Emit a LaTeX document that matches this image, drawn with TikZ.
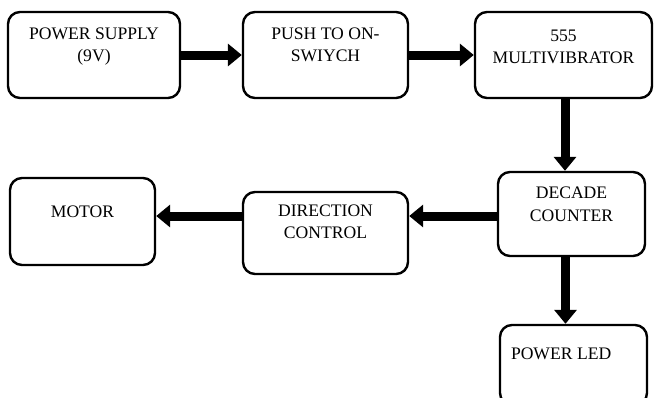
\documentclass[tikz,border=0pt]{standalone}
\usepackage{fontspec}
\setmainfont{Liberation Serif}
\usetikzlibrary{arrows.meta}
\tikzset{
  blk/.style={draw, line width=2.4pt, rounded corners=12pt, inner sep=0pt},
  lbl/.style={anchor=north, align=center, inner sep=0pt, font=\fontsize{17.6}{22.5}\selectfont},
  fat/.style={line width=9pt, -{Triangle[width=22pt,length=14pt]}}
}
\begin{document}
\begin{tikzpicture}[x=1pt,y=-1pt]
  \useasboundingbox (0,0) rectangle (662,397);
  \clip (0,0) rectangle (662,397);
  %% top row
  \node[blk, minimum width=172pt, minimum height=86pt] (ps) at (94,55) {};
  \node[blk, minimum width=165pt, minimum height=86pt] (push) at (325.5,55) {};
  \node[blk, minimum width=177pt, minimum height=86pt] (mv) at (563.5,55) {};
  %% bottom rows
  \node[blk, minimum width=147pt, minimum height=84pt] (dc) at (571.5,214) {};
  \node[blk, minimum width=165pt, minimum height=82pt] (dir) at (325.5,233) {};
  \node[blk, minimum width=145pt, minimum height=87pt] (mot) at (82.5,221.5) {};
  \node[blk, minimum width=147pt, minimum height=80pt] (led) at (573.5,365) {};
  %% texts
  \node[lbl] (ps-t) at ([yshift=-16.5pt]ps.north) {POWER SUPPLY\\(9V)};
  \node[lbl] (push-t) at ([yshift=-16.5pt]push.north) {PUSH TO ON-\\SWIYCH};
  \node[lbl] (mv-t) at ([yshift=-18.5pt]mv.north) {555\\MULTIVIBRATOR};
  \node[lbl] (dc-t) at ([yshift=-16pt]dc.north) {DECADE\\COUNTER};
  \node[lbl] (dir-t) at ([yshift=-13.5pt]dir.north) {DIRECTION\\CONTROL};
  \node[lbl] (mot-t) at ([yshift=-29pt]mot.north) {MOTOR};
  \node[lbl, anchor=north west] (led-t) at ([xshift=12pt,yshift=-24pt]led.north west) {POWER LED};
  %% arrows
  \coordinate (row) at ([yshift=-2pt]dc.west);
  \draw[fat] (ps.east) -- (push.west);
  \draw[fat] (push.east) -- (mv.west);
  \draw[fat] ([xshift=1.5pt]mv.south) -- ([xshift=1.5pt]mv.south |- dc.north);
  \draw[fat] (row) -- (row -| dir.east);
  \draw[fat] (dir.west |- row) -- (mot.east |- row);
  \draw[fat] ([xshift=-6pt]dc.south) -- ([xshift=-6pt]dc.south |- led.north);
\end{tikzpicture}
\end{document}
